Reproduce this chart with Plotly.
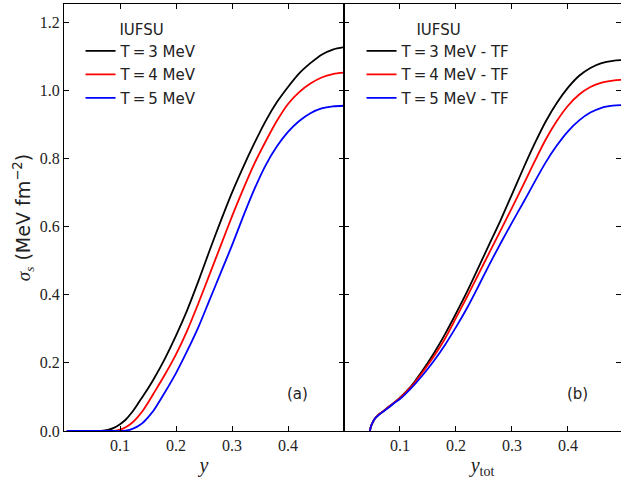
import plotly.graph_objects as go

# ---- data ----
x_a = [0.005, 0.03, 0.05, 0.06, 0.07, 0.08, 0.09, 0.10, 0.11, 0.12, 0.13, 0.14, 0.15, 0.16, 0.18, 0.20, 0.22, 0.24,
       0.26, 0.28, 0.30, 0.32, 0.34, 0.36, 0.38, 0.40, 0.42, 0.44, 0.46, 0.48, 0.50]
a_T3 = [0.0, 0.0, 0.0, 0.0, 0.001, 0.004, 0.01, 0.02, 0.033, 0.052, 0.075, 0.10, 0.125, 0.152, 0.212, 0.28, 0.355, 0.44,
        0.53, 0.617, 0.70, 0.775, 0.845, 0.91, 0.965, 1.01, 1.05, 1.08, 1.105, 1.12, 1.127]
a_T4 = [0.0, 0.0, 0.0, 0.0, 0.0, 0.0, 0.0005, 0.004, 0.011, 0.022, 0.038, 0.058, 0.083, 0.11, 0.165, 0.225, 0.295, 0.375,
        0.46, 0.545, 0.63, 0.71, 0.785, 0.85, 0.91, 0.96, 0.995, 1.02, 1.038, 1.048, 1.052]
a_T5 = [0.0, 0.0, 0.0, 0.0, 0.0, 0.0, 0.0, 0.0, 0.001, 0.005, 0.012, 0.023, 0.04, 0.06, 0.113, 0.17, 0.235, 0.305,
        0.385, 0.465, 0.545, 0.63, 0.71, 0.78, 0.835, 0.878, 0.91, 0.933, 0.947, 0.953, 0.955]

x_b = [0.0463, 0.048, 0.05, 0.053, 0.056, 0.06, 0.065, 0.07, 0.08, 0.09, 0.10, 0.12, 0.14, 0.16, 0.18,
       0.20, 0.22, 0.24, 0.26, 0.28, 0.30, 0.32, 0.34, 0.36, 0.38, 0.40, 0.42, 0.44, 0.46, 0.48, 0.495]
b_T3 = [0.0, 0.013, 0.021, 0.031, 0.038, 0.045, 0.052, 0.058, 0.071, 0.084, 0.098, 0.132, 0.177, 0.227, 0.283,
        0.345, 0.41, 0.48, 0.55, 0.62, 0.695, 0.77, 0.842, 0.908, 0.963, 1.008, 1.043, 1.066, 1.08, 1.087, 1.089]
b_T4 = [0.0, 0.013, 0.021, 0.031, 0.038, 0.045, 0.052, 0.058, 0.071, 0.084, 0.097, 0.13, 0.172, 0.218, 0.27,
        0.332, 0.395, 0.46, 0.525, 0.59, 0.655, 0.722, 0.79, 0.855, 0.91, 0.955, 0.988, 1.01, 1.023, 1.029, 1.031]
b_T5 = [0.0, 0.013, 0.021, 0.031, 0.038, 0.044, 0.051, 0.057, 0.069, 0.082, 0.094, 0.126, 0.163, 0.205, 0.252,
        0.305, 0.362, 0.425, 0.49, 0.552, 0.612, 0.67, 0.73, 0.788, 0.838, 0.88, 0.912, 0.935, 0.949, 0.955, 0.957]

names_a = ["T\u2009=\u20093 MeV", "T\u2009=\u20094 MeV", "T\u2009=\u20095 MeV"]
names_b = ["T\u2009=\u20093 MeV - TF", "T\u2009=\u20094 MeV - TF", "T\u2009=\u20095 MeV - TF"]
colors = ["#000000", "#ff0000", "#0000ff"]
x_ticks = [0.1, 0.2, 0.3, 0.4]
y_ticks = [0.0, 0.2, 0.4, 0.6, 0.8, 1.0, 1.2]

fig = go.Figure()
for i, (ys, nm, c) in enumerate(zip([a_T3, a_T4, a_T5], names_a, colors)):
    fig.add_trace(go.Scatter(x=x_a, y=ys, name=nm, mode="lines",
                             line=dict(color=c, width=1.8, shape="spline", smoothing=0.8),
                             xaxis="x", yaxis="y", legend="legend", legendgroup=f"a{i}"))
for i, (ys, nm, c) in enumerate(zip([b_T3, b_T4, b_T5], names_b, colors)):
    fig.add_trace(go.Scatter(x=x_b, y=ys, name=nm, mode="lines",
                             line=dict(color=c, width=1.8, shape="spline", smoothing=0.8),
                             xaxis="x2", yaxis="y2", legend="legend2", legendgroup=f"b{i}"))

serif = "Liberation Serif, DejaVu Serif, serif"
sans = "DejaVu Sans, sans-serif"
split = 280 / 557

axis_common = dict(showline=True, linecolor="black", linewidth=1.2, mirror="ticks", ticks="inside",
                   ticklen=5, tickwidth=1, tickcolor="black", showgrid=False, zeroline=False,
                   tickfont=dict(family=serif, size=16, color="#222"))

legend_common = dict(xanchor="left", yanchor="top", bgcolor="rgba(0,0,0,0)",
                     font=dict(family=sans, size=15, color="#222"),
                     itemwidth=30, tracegroupgap=1)

fig.update_layout(
    width=621, height=481,
    margin=dict(l=64, r=0, t=4, b=50),
    paper_bgcolor="white", plot_bgcolor="white",
    showlegend=True,
    xaxis=dict(domain=[0, split], range=[0, 0.5], tickvals=x_ticks, ticktext=["0.1", "0.2", "0.3", "0.4"],
               title=dict(text="<i>y</i>", font=dict(family=serif, size=20, color="#222"), standoff=4),
               **axis_common),
    yaxis=dict(range=[0, 1.2537], tickvals=y_ticks, ticktext=[f"{v:.1f}" for v in y_ticks],
               title=dict(text="<i>σ</i><sub><i>s</i></sub><span style=\"font-family:DejaVu Sans\"> (MeV fm<sup>−2</sup>)</span>",
                          font=dict(family=serif, size=19, color="#222"), standoff=4),
               **axis_common),
    xaxis2=dict(domain=[split, 1], range=[0, 0.4947], tickvals=x_ticks, ticktext=["0.1", "0.2", "0.3", "0.4"],
                anchor="y2",
                title=dict(text="<i>y</i><sub>tot</sub>", font=dict(family=serif, size=20, color="#222"), standoff=4),
                **axis_common),
    yaxis2=dict(range=[0, 1.2537], anchor="x2", tickvals=y_ticks, showticklabels=False, **axis_common),
    legend=dict(x=0.0297, y=0.974,
                title=dict(text="IUFSU", side="top center", font=dict(family=sans, size=15, color="#222")),
                **legend_common),
    legend2=dict(x=split + 0.0315, y=0.974,
                 title=dict(text="IUFSU", side="top center", font=dict(family=sans, size=15, color="#222")),
                 **legend_common),
    annotations=[
        dict(text="(a)", x=0.417, y=0.11, xref="x", yref="y", showarrow=False,
             font=dict(family=sans, size=15, color="#222")),
        dict(text="(b)", x=0.417, y=0.11, xref="x2", yref="y2", showarrow=False,
             font=dict(family=sans, size=15, color="#222")),
    ],
)

fig.write_html("out.html", config={"displayModeBar": False},
               post_script="document.body.style.margin='0';")
